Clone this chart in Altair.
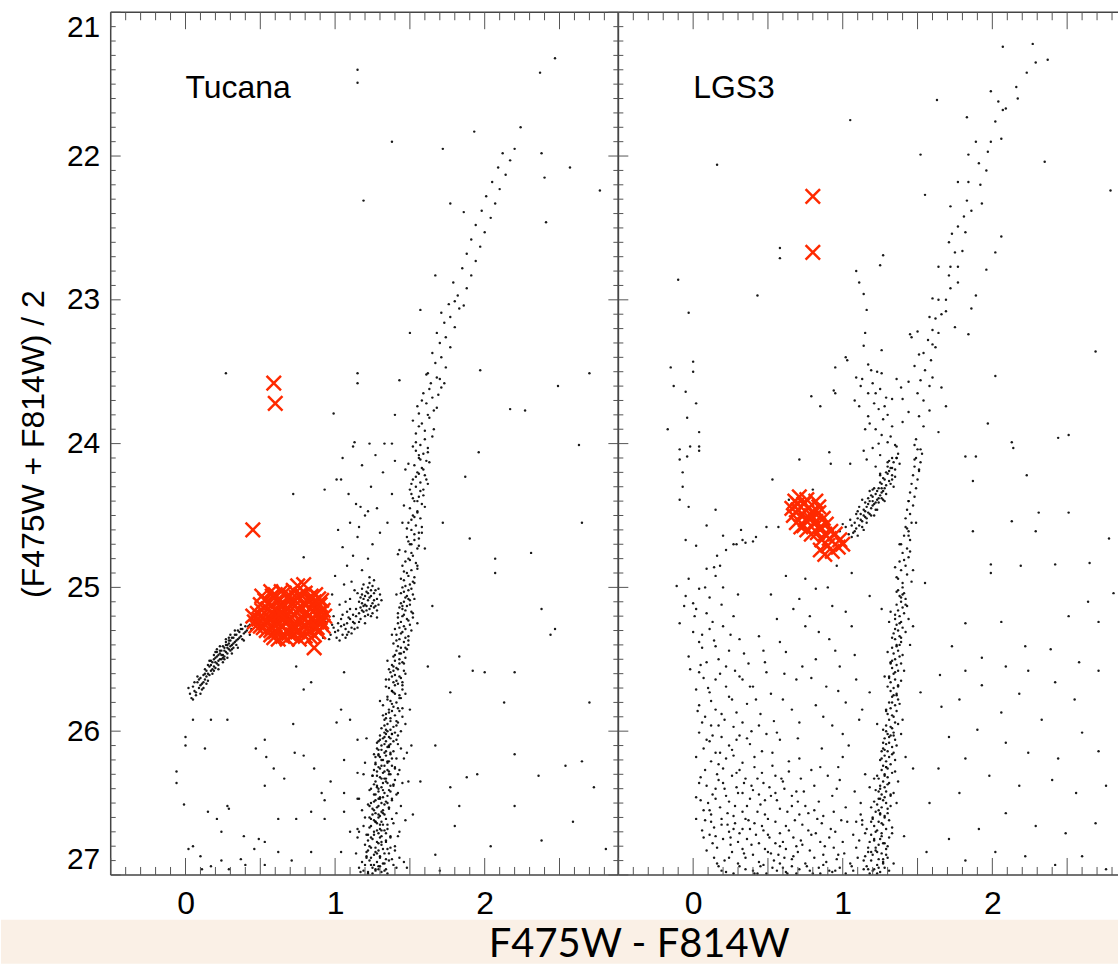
import altair as alt
import pandas as pd
import numpy as np

# ---------------- data: (F475W-F814W, (F475W+F814W)/2) ----------------
TUC_RGB = [
(1.22,26.99),(1.31,26.98),(1.27,26.97),(1.34,26.96),(1.25,26.95),(1.29,26.94),(1.20,26.93),(1.32,26.92),(1.28,26.91),(1.36,26.90),
(1.24,26.88),(1.30,26.87),(1.26,26.86),(1.33,26.85),(1.21,26.84),(1.29,26.83),(1.35,26.82),(1.27,26.81),(1.23,26.80),(1.31,26.79),
(1.28,26.77),(1.34,26.76),(1.25,26.75),(1.30,26.74),(1.37,26.73),(1.22,26.72),(1.29,26.71),(1.26,26.70),(1.33,26.69),(1.30,26.68),
(1.24,26.66),(1.35,26.65),(1.28,26.64),(1.31,26.63),(1.26,26.62),(1.38,26.61),(1.23,26.60),(1.30,26.59),(1.33,26.58),(1.27,26.57),
(1.32,26.55),(1.25,26.54),(1.36,26.53),(1.29,26.52),(1.22,26.51),(1.31,26.50),(1.34,26.49),(1.27,26.48),(1.38,26.47),(1.30,26.46),
(1.26,26.44),(1.33,26.43),(1.29,26.42),(1.36,26.41),(1.24,26.40),(1.31,26.39),(1.28,26.38),(1.39,26.37),(1.32,26.36),(1.27,26.35),
(1.34,26.33),(1.30,26.32),(1.25,26.31),(1.37,26.30),(1.32,26.29),(1.28,26.28),(1.35,26.27),(1.40,26.26),(1.29,26.25),(1.33,26.24),
(1.27,26.22),(1.36,26.21),(1.31,26.20),(1.38,26.19),(1.30,26.18),(1.34,26.17),(1.26,26.16),(1.33,26.15),(1.39,26.14),(1.29,26.13),
(1.35,26.11),(1.31,26.10),(1.37,26.09),(1.28,26.08),(1.34,26.07),(1.41,26.06),(1.32,26.05),(1.36,26.04),(1.30,26.03),(1.38,26.02),
(1.33,26.01),(1.35,26.00),
(1.19,26.97),(1.35,26.99),(1.29,26.96),(1.41,26.95),(1.26,26.93),(1.33,26.92),(1.23,26.90),(1.38,26.89),(1.30,26.88),(1.21,26.87),
(1.36,26.85),(1.27,26.84),(1.32,26.82),(1.24,26.81),(1.40,26.80),(1.29,26.78),(1.34,26.77),(1.22,26.76),(1.37,26.74),(1.31,26.73),
(1.26,26.72),(1.43,26.70),(1.28,26.69),(1.35,26.68),(1.23,26.67),(1.32,26.65),(1.39,26.64),(1.27,26.63),(1.34,26.61),(1.29,26.60),
(1.25,26.58),(1.41,26.57),(1.31,26.56),(1.36,26.54),(1.28,26.53),(1.33,26.51),(1.24,26.50),(1.38,26.48),(1.30,26.47),(1.35,26.45),
(1.27,26.44),(1.42,26.43),(1.32,26.41),(1.29,26.40),(1.37,26.38),(1.26,26.37),(1.34,26.35),(1.40,26.34),(1.31,26.33),(1.28,26.31),
(1.36,26.30),(1.33,26.28),(1.43,26.27),(1.30,26.26),(1.38,26.24),(1.27,26.23),(1.35,26.22),(1.32,26.20),(1.41,26.19),(1.29,26.17),
(1.37,26.16),(1.34,26.14),(1.31,26.13),(1.44,26.12),(1.36,26.10),(1.33,26.09),(1.39,26.07),(1.30,26.06),(1.37,26.05),(1.42,26.03),
(1.34,26.02),(1.40,26.01),
(1.16,26.95),(1.46,26.91),(1.15,26.74),(1.47,26.62),(1.18,26.55),(1.45,26.36),(1.20,26.22),(1.48,26.15),(1.21,26.05),(1.47,25.95),
(1.31,25.98),(1.39,25.97),(1.35,25.95),(1.42,25.94),(1.33,25.92),(1.37,25.91),(1.40,25.89),(1.34,25.88),(1.43,25.86),(1.36,25.85),
(1.39,25.83),(1.32,25.82),(1.41,25.80),(1.37,25.79),(1.44,25.77),(1.35,25.76),(1.40,25.74),(1.38,25.72),(1.45,25.71),(1.34,25.69),
(1.42,25.67),(1.39,25.66),(1.36,25.64),(1.44,25.63),(1.40,25.61),(1.37,25.59),(1.46,25.58),(1.41,25.56),(1.38,25.54),(1.43,25.53),
(1.40,25.51),(1.47,25.49),(1.39,25.48),(1.44,25.46),(1.41,25.44),(1.48,25.43),(1.42,25.41),(1.39,25.39),(1.46,25.38),(1.43,25.36),
(1.49,25.34),(1.41,25.33),(1.45,25.31),(1.47,25.29),(1.43,25.28),(1.50,25.26),(1.44,25.24),(1.48,25.22),(1.42,25.21),(1.46,25.19),
(1.51,25.17),(1.45,25.15),(1.48,25.13),(1.44,25.11),(1.50,25.09),(1.47,25.07),(1.52,25.05),(1.46,25.03),(1.49,25.02),(1.45,25.00),
(1.34,25.99),(1.41,25.96),(1.37,25.93),(1.45,25.90),(1.36,25.87),(1.42,25.84),(1.38,25.81),(1.35,25.78),(1.43,25.75),(1.39,25.73),
(1.36,25.70),(1.45,25.68),(1.41,25.65),(1.38,25.62),(1.47,25.60),(1.42,25.57),(1.39,25.55),(1.45,25.52),(1.43,25.50),(1.40,25.47),
(1.46,25.45),(1.44,25.42),(1.49,25.40),(1.41,25.37),(1.47,25.35),(1.44,25.32),(1.51,25.30),(1.46,25.27),(1.42,25.25),(1.49,25.23),
(1.45,25.20),(1.52,25.18),(1.47,25.16),(1.43,25.14),(1.50,25.12),(1.46,25.10),(1.53,25.08),(1.48,25.06),(1.44,25.04),(1.51,25.01),
(1.50,24.98),(1.46,24.95),(1.53,24.93),(1.48,24.90),(1.51,24.88),(1.45,24.85),(1.54,24.83),(1.49,24.80),(1.52,24.78),(1.47,24.75),
(1.55,24.73),(1.50,24.70),(1.53,24.67),(1.48,24.65),(1.56,24.62),(1.51,24.60),(1.54,24.57),(1.49,24.55),(1.57,24.52),(1.52,24.50),
(1.55,24.47),(1.50,24.45),(1.58,24.42),(1.53,24.40),(1.56,24.37),(1.51,24.35),(1.59,24.32),(1.54,24.30),(1.57,24.27),(1.52,24.25),
(1.60,24.22),(1.55,24.20),(1.58,24.17),(1.53,24.15),(1.61,24.12),(1.56,24.10),(1.59,24.07),(1.54,24.05),(1.62,24.03),(1.57,24.01),
(1.47,24.99),(1.52,24.96),(1.49,24.92),(1.55,24.87),(1.47,24.82),(1.51,24.76),(1.56,24.71),(1.49,24.68),(1.53,24.63),(1.58,24.58),
(1.51,24.53),(1.55,24.48),(1.60,24.44),(1.52,24.38),(1.57,24.33),(1.62,24.28),(1.54,24.23),(1.59,24.18),(1.63,24.13),(1.56,24.08),
(1.60,23.97),(1.54,23.93),(1.66,23.90),(1.58,23.86),(1.63,23.82),(1.56,23.79),(1.68,23.75),(1.61,23.72),(1.65,23.68),(1.59,23.65),
(1.71,23.61),(1.64,23.58),(1.68,23.54),(1.62,23.51),(1.74,23.47),(1.67,23.44),(1.71,23.40),(1.65,23.37),(1.77,23.33),(1.70,23.30),
(1.74,23.26),(1.68,23.23),(1.80,23.19),(1.73,23.16),(1.77,23.12),(1.71,23.09),(1.83,23.06),(1.76,23.03),(1.80,23.01),(1.86,23.04),
(1.82,22.97),(1.88,22.92),(1.79,22.88),(1.91,22.83),(1.85,22.78),(1.94,22.73),(1.88,22.68),(1.97,22.63),(1.91,22.58),(2.00,22.53),
(1.94,22.48),(2.04,22.43),(1.98,22.38),(2.07,22.33),(2.01,22.28),(2.10,22.23),(2.05,22.18),(2.14,22.13),(2.09,22.08),(2.17,22.03),
(2.12,21.98),(2.20,21.95),
]
TUC_RGB_SPREAD = [
(1.24,26.93),(1.37,26.81),(1.19,26.66),(1.33,26.97),(1.29,26.58),(1.42,26.73),(1.26,26.49),(1.35,26.36),(1.21,26.88),(1.31,26.24),
(1.44,26.52),(1.28,26.12),(1.38,26.02),(1.23,26.41),(1.34,25.91),(1.46,26.19),(1.30,25.79),(1.40,25.68),(1.27,26.63),(1.36,25.57),
(1.20,26.79),(1.32,26.46),(1.45,25.84),(1.25,26.31),(1.39,26.93),(1.29,26.07),(1.43,25.62),(1.34,26.71),(1.22,26.98),(1.37,26.15),
(1.28,26.85),(1.41,26.44),(1.33,25.96),(1.47,25.74),(1.26,26.55),(1.36,26.28),(1.18,26.91),(1.31,26.69),(1.42,26.09),(1.35,25.51),
(1.24,26.61),(1.39,26.38),(1.30,26.94),(1.44,26.00),(1.27,26.18),(1.38,25.86),(1.21,26.72),(1.33,26.33),(1.46,25.53),(1.29,26.47),
(1.40,26.83),(1.35,26.21),(1.25,26.99),(1.37,25.99),(1.32,26.57),(1.43,25.77),(1.23,26.52),(1.34,26.89),(1.28,26.39),(1.41,25.93),
(1.31,26.77),(1.36,26.11),(1.26,26.27),(1.45,25.66),(1.30,26.65),(1.39,25.58),(1.22,26.83),(1.33,26.04),(1.42,26.30),(1.27,26.96),
(1.35,26.50),(1.38,25.72),(1.24,26.74),(1.29,26.16),(1.43,26.88),(1.32,25.89),(1.20,26.60),(1.37,26.42),(1.34,25.64),(1.40,26.25),
(1.17,26.98),(1.49,26.35),(1.15,26.68),(1.50,25.85),(1.19,26.30),(1.48,26.95),(1.52,26.58),(1.16,26.47),(1.51,26.10),(1.14,26.85),
(1.43,25.46),(1.49,25.37),(1.40,25.29),(1.52,25.21),(1.45,25.13),(1.41,25.05),(1.53,24.97),(1.46,24.89),(1.50,24.81),(1.43,24.74),
(1.56,24.66),(1.48,24.59),(1.53,24.51),(1.46,24.43),(1.59,24.36),(1.51,24.28),(1.56,24.21),(1.49,24.14),(1.62,24.06),(1.54,23.99),
(1.60,23.91),(1.52,23.84),(1.66,23.77),(1.58,23.70),(1.63,23.62),(1.70,23.55),(1.61,23.52),(1.47,25.42),(1.38,25.33),(1.55,25.25),
(1.42,25.18),(1.49,25.08),(1.44,24.94),(1.55,24.85),(1.42,24.77),(1.51,24.70),(1.58,24.62),(1.45,24.55),(1.55,24.40),(1.50,24.32),
(1.61,24.25),(1.47,24.18),(1.57,24.11),(1.52,24.02),(1.65,23.95),(1.56,23.88),(1.62,23.80),(1.69,23.66),(1.55,23.74),(1.73,23.58),
]
TUC_HB = [
(0.03,25.74),(0.05,25.69),(0.06,25.72),(0.08,25.66),(0.09,25.70),(0.10,25.63),(0.11,25.67),(0.12,25.61),(0.13,25.64),(0.14,25.58),
(0.15,25.60),(0.16,25.55),(0.17,25.58),(0.18,25.52),(0.19,25.55),(0.20,25.49),(0.21,25.53),(0.22,25.47),(0.23,25.50),(0.24,25.44),
(0.25,25.47),(0.26,25.42),(0.27,25.45),(0.28,25.40),(0.29,25.43),(0.30,25.37),(0.31,25.40),(0.32,25.35),(0.33,25.38),(0.34,25.33),
(0.35,25.36),(0.36,25.31),(0.37,25.34),(0.38,25.29),(0.39,25.32),(0.40,25.27),(0.41,25.30),(0.43,25.26),(0.44,25.29),(0.46,25.25),
(0.21,25.48),(0.24,25.47),(0.26,25.44),(0.28,25.42),(0.30,25.41),(0.22,25.51),(0.19,25.50),(0.27,25.40),(0.32,25.39),(0.17,25.54),
(0.04,25.77),(0.07,25.73),(0.09,25.64),(0.11,25.71),(0.12,25.66),(0.14,25.62),(0.15,25.54),(0.16,25.61),(0.18,25.57),(0.19,25.47),
(0.20,25.56),(0.21,25.45),(0.22,25.54),(0.23,25.46),(0.24,25.50),(0.25,25.41),(0.26,25.48),(0.27,25.38),(0.28,25.46),(0.29,25.39),
(0.30,25.44),(0.31,25.35),(0.32,25.42),(0.33,25.33),(0.34,25.40),(0.36,25.35),(0.37,25.29),(0.38,25.36),(0.40,25.31),(0.42,25.27),
(0.13,25.60),(0.17,25.51),(0.20,25.52),(0.23,25.44),(0.25,25.49),(0.29,25.37),(0.31,25.43),(0.35,25.30),(0.10,25.68),(0.06,25.66),
(0.02,25.70),(0.05,25.78),(0.08,25.62),(0.10,25.74),(0.13,25.57),(0.14,25.67),(0.16,25.51),(0.18,25.60),(0.20,25.45),(0.22,25.57),
(0.23,25.41),(0.25,25.52),(0.27,25.36),(0.28,25.49),(0.30,25.33),(0.31,25.46),(0.33,25.30),(0.35,25.42),(0.37,25.26),(0.39,25.37),
(0.41,25.24),(0.43,25.33),(0.12,25.70),(0.19,25.58),(0.26,25.50),(0.21,25.43),(0.29,25.35),(0.34,25.37),(0.15,25.65),(0.07,25.75),
(0.95,25.30),(0.97,25.33),(0.99,25.28),(1.01,25.35),(1.02,25.30),(1.04,25.27),(1.05,25.33),(1.07,25.29),(1.08,25.25),(1.09,25.31),
(1.10,25.22),(1.11,25.28),(1.12,25.19),(1.13,25.25),(1.14,25.15),
(0.94,25.24),(0.96,25.36),(0.98,25.26),(1.00,25.31),(1.03,25.37),(1.04,25.22),(1.06,25.26),(1.07,25.35),(1.09,25.21),(1.11,25.32),
(1.12,25.24),(1.14,25.20),(1.15,25.28),(1.17,25.22),
(1.16,25.10),(1.18,25.05),(1.17,25.14),(1.19,25.08),(1.20,25.12),(1.21,25.03),(1.22,25.09),(1.23,25.15),(1.19,25.17),(1.24,25.06),
(1.25,25.11),(1.22,25.00),(1.26,25.04),(1.20,25.20),(1.27,25.13),(1.23,24.97),(1.18,25.11),(1.21,25.16),(1.25,25.18),(1.28,25.08),
(1.16,25.18),(1.24,25.02),(1.29,25.12),(1.26,24.95),
(1.18,25.01),(1.20,25.06),(1.21,25.13),(1.23,25.07),(1.24,25.13),(1.26,25.09),(1.27,25.02),(1.19,25.13),(1.22,25.19),(1.28,25.16),
(1.30,25.05),(1.17,25.07),(1.25,24.99),(1.29,25.01),
(1.02,25.25),(1.05,25.19),(1.08,25.33),(1.10,25.15),(1.13,25.29),(1.16,25.24),(1.18,25.16),(1.20,25.25),(1.22,25.04),(1.24,25.20),
(1.26,25.14),(1.15,25.04),(1.28,25.21),(1.31,25.09),(1.19,24.98),(1.23,24.93),(1.11,24.96),(1.07,25.10),(0.96,25.20),(0.92,25.35),
(0.98,25.05),(1.03,25.12),(1.06,24.98),(1.10,25.08),(0.99,25.20),(1.13,25.02),(1.08,25.17),
]
TUC_AGB = [
(1.00,24.92),(1.08,24.85),(1.12,24.78),(1.18,24.88),(1.05,24.72),(1.15,24.65),(1.22,24.80),(1.10,24.55),(1.25,24.70),(1.20,24.50),
(1.02,24.60),(1.30,24.62),(1.14,24.42),(1.28,24.45),(1.35,24.55),(1.09,24.35),(1.24,24.30),(1.32,24.20),(1.18,24.15),(1.38,24.35),
(1.04,24.25),(1.27,24.08),(1.40,24.12),(1.12,24.02),(1.33,24.00),
(0.72,24.35),(0.93,24.32),(1.01,24.25),(1.17,24.44),(1.22,24.47),(0.79,24.79),(1.16,24.58),
(2.38,21.98),(2.40,22.15),(2.24,21.80),(1.93,21.83),(1.72,21.95),(1.38,21.90),(1.15,21.40),(1.15,21.49),(2.47,21.32),(2.37,21.42),
(2.57,22.08),(2.77,22.24),(2.41,22.46),(1.19,22.31),(1.97,23.49),(2.17,23.76),(2.27,23.77),(2.49,23.60),(2.70,23.51),(2.63,24.01),
(1.96,24.06),(0.27,23.51),(1.15,23.51),(1.15,23.58),(0.99,23.79),(1.05,24.10),(1.23,24.00),(1.13,23.99),(1.43,23.56),(1.40,23.80),
(1.38,24.00),(1.50,23.23),(1.57,23.07),(1.67,22.83),(1.77,22.33),(1.86,22.39),
]
TUC_FAINT = [
(0.00,26.04),(0.00,26.10),(-0.06,26.28),(-0.06,26.36),(-0.01,26.51),(0.05,25.92),(0.05,26.80),(0.10,26.87),(0.13,26.12),(0.17,25.92),
(0.28,25.92),(0.15,26.56),(0.21,26.61),(0.28,26.52),(0.29,26.54),(0.24,26.70),(0.39,26.73),(0.46,26.82),(0.53,26.77),(0.49,26.75),
(0.37,26.89),(0.24,26.90),(0.53,26.06),(0.47,26.12),(0.54,26.18),(0.59,26.26),(0.73,26.15),(0.79,26.17),(0.72,25.95),(0.84,25.66),
(0.79,25.71),(0.74,25.55),(1.06,25.59),(1.04,25.85),(1.01,25.94),(0.93,26.48),(0.91,26.43),(0.66,26.33),(0.53,26.38),(0.62,26.61),
(0.74,26.61),(0.84,26.56),(0.93,26.61),(1.06,26.43),(1.06,26.56),(1.10,26.70),(1.04,26.84),(0.84,26.84),(0.71,26.90),(0.62,26.84),
(0.53,26.93),(0.40,26.93),(0.17,26.94),(0.11,26.96),(0.29,26.96),(0.02,26.82),(0.86,26.26),(0.97,26.35),(1.06,26.20),(1.10,25.92),
(1.15,26.06),(1.15,26.29),(1.15,26.47),(1.16,26.70),
]
TUC_FIELD = [
(2.65,24.55),(2.07,24.80),(2.07,24.90),(2.31,24.76),(2.38,25.15),(2.47,25.29),(2.44,25.33),(1.83,25.48),(2.00,25.59),(2.20,25.59),
(2.13,25.80),(2.70,25.80),(1.77,25.73),(1.92,25.58),(1.67,26.10),(2.20,26.16),(2.65,26.21),(2.54,26.24),(2.73,26.39),(2.36,26.31),
(1.95,26.30),(1.88,26.32),(1.77,26.39),(1.83,26.52),(2.20,26.52),(2.59,26.63),(1.80,26.66),(2.38,26.76),(2.04,26.80),(1.67,26.86),
(2.81,26.82),(1.70,26.97),(1.57,26.35),(1.62,25.55),(1.65,25.13),(1.72,24.55),(1.90,24.66),(1.87,24.23),(1.60,24.73),
]
TUC_CROSS = [
(0.64,25.03),(0.72,25.02),(0.80,25.04),(0.75,24.99),
(0.58,25.06),(0.68,25.07),(0.77,25.05),(0.84,25.06),(0.89,25.08),
(0.53,25.09),(0.62,25.10),(0.70,25.09),(0.79,25.11),(0.86,25.10),(0.91,25.09),
(0.50,25.12),(0.57,25.13),(0.66,25.12),(0.73,25.13),(0.81,25.12),(0.88,25.14),
(0.55,25.15),(0.61,25.16),(0.69,25.15),(0.76,25.16),(0.83,25.15),(0.92,25.16),
(0.48,25.18),(0.59,25.19),(0.65,25.18),(0.72,25.19),(0.80,25.18),(0.87,25.19),
(0.52,25.21),(0.57,25.22),(0.63,25.21),(0.70,25.22),(0.78,25.21),(0.85,25.22),(0.90,25.21),
(0.46,25.24),(0.55,25.25),(0.61,25.24),(0.67,25.25),(0.74,25.24),(0.82,25.25),(0.88,25.24),
(0.50,25.27),(0.58,25.28),(0.64,25.27),(0.71,25.28),(0.79,25.27),(0.86,25.28),(0.92,25.27),
(0.54,25.30),(0.60,25.31),(0.68,25.30),(0.75,25.31),(0.83,25.30),(0.89,25.31),
(0.57,25.33),(0.65,25.34),(0.72,25.33),(0.80,25.34),(0.86,25.33),
(0.62,25.36),(0.76,25.36),
(0.60,25.05),(0.66,25.04),(0.74,25.07),(0.82,25.08),(0.87,25.05),(0.56,25.11),(0.64,25.14),(0.71,25.11),(0.78,25.14),(0.85,25.13),
(0.90,25.12),(0.51,25.16),(0.58,25.17),(0.67,25.20),(0.74,25.17),(0.82,25.20),(0.89,25.18),(0.49,25.22),(0.54,25.23),(0.60,25.26),
(0.66,25.22),(0.72,25.26),(0.77,25.23),(0.84,25.26),(0.91,25.24),(0.52,25.28),(0.57,25.30),(0.62,25.29),(0.69,25.32),(0.73,25.29),
(0.81,25.29),(0.88,25.28),(0.59,25.35),(0.68,25.36),(0.78,25.32),(0.84,25.35),(0.70,25.06),(0.93,25.20),(0.47,25.27),(0.63,25.18),
(0.51,25.06),(0.57,25.03),(0.79,24.98),(0.45,25.20),
(0.86,25.42),(0.45,24.60),(0.59,23.58),(0.60,23.72),
]

LGS_RGB = [
(1.18,26.99),(1.25,26.98),(1.21,26.96),(1.28,26.95),(1.16,26.94),(1.23,26.93),(1.27,26.91),(1.19,26.90),(1.24,26.89),(1.30,26.88),
(1.20,26.86),(1.26,26.85),(1.22,26.83),(1.29,26.82),(1.17,26.81),(1.24,26.79),(1.27,26.78),(1.21,26.76),(1.25,26.75),(1.31,26.74),
(1.19,26.72),(1.26,26.71),(1.23,26.69),(1.29,26.68),(1.21,26.66),(1.27,26.65),(1.24,26.63),(1.31,26.62),(1.20,26.60),(1.28,26.59),
(1.25,26.57),(1.22,26.56),(1.30,26.54),(1.26,26.53),(1.23,26.51),(1.29,26.50),(1.27,26.48),(1.24,26.47),(1.32,26.45),(1.26,26.44),
(1.29,26.42),(1.22,26.41),(1.28,26.39),(1.25,26.38),(1.31,26.36),(1.27,26.35),(1.24,26.33),(1.30,26.32),(1.28,26.30),(1.33,26.29),
(1.26,26.27),(1.30,26.26),(1.27,26.24),(1.32,26.23),(1.29,26.21),(1.25,26.20),(1.31,26.18),(1.28,26.17),(1.34,26.15),(1.30,26.14),
(1.27,26.12),(1.33,26.11),(1.29,26.09),(1.31,26.08),(1.35,26.06),(1.28,26.05),(1.32,26.03),(1.30,26.02),(1.34,26.01),(1.29,26.00),
(1.20,26.97),(1.27,26.92),(1.15,26.87),(1.23,26.84),(1.30,26.80),(1.18,26.77),(1.26,26.73),(1.22,26.70),(1.33,26.67),(1.19,26.63),
(1.28,26.60),(1.24,26.55),(1.32,26.52),(1.21,26.49),(1.28,26.46),(1.34,26.43),(1.25,26.40),(1.30,26.37),(1.23,26.31),(1.35,26.28),
(1.29,26.25),(1.26,26.19),(1.33,26.16),(1.28,26.13),(1.36,26.10),(1.31,26.04),(1.27,25.99),(1.37,25.95),(1.33,25.89),(1.29,25.85),
(1.38,25.81),(1.34,25.75),(1.30,25.69),(1.39,25.65),(1.35,25.59),(1.32,25.53),(1.40,25.47),(1.36,25.41),(1.33,25.35),(1.42,25.31),
(1.38,25.25),(1.35,25.19),(1.43,25.13),(1.39,25.07),(1.36,25.03),
(1.33,25.98),(1.29,25.96),(1.35,25.94),(1.31,25.92),(1.34,25.90),(1.30,25.88),(1.36,25.86),(1.32,25.84),(1.35,25.82),(1.31,25.80),
(1.37,25.78),(1.33,25.76),(1.36,25.74),(1.32,25.72),(1.34,25.70),(1.37,25.68),(1.32,25.66),(1.35,25.64),(1.31,25.62),(1.34,25.60),
(1.37,25.58),(1.33,25.56),(1.36,25.54),(1.32,25.52),(1.35,25.50),(1.38,25.48),(1.34,25.46),(1.37,25.44),(1.33,25.42),(1.36,25.40),
(1.39,25.38),(1.35,25.36),(1.38,25.34),(1.34,25.32),(1.37,25.30),(1.40,25.28),(1.36,25.26),(1.39,25.24),(1.35,25.22),(1.38,25.20),
(1.41,25.18),(1.37,25.16),(1.40,25.14),(1.36,25.12),(1.39,25.10),(1.42,25.08),(1.38,25.06),(1.41,25.04),(1.37,25.02),(1.40,25.00),
(1.40,24.97),(1.37,24.94),(1.43,24.91),(1.39,24.88),(1.42,24.85),(1.38,24.82),(1.44,24.79),(1.40,24.76),(1.43,24.73),(1.39,24.70),
(1.45,24.67),(1.41,24.64),(1.44,24.61),(1.42,24.58),(1.46,24.55),(1.42,24.52),(1.45,24.49),(1.43,24.46),(1.47,24.43),(1.44,24.40),
(1.48,24.37),(1.45,24.34),(1.49,24.31),(1.46,24.28),(1.50,24.25),(1.47,24.22),(1.51,24.19),(1.48,24.16),(1.52,24.13),(1.49,24.10),
(1.53,24.07),(1.50,24.04),(1.48,24.01),
(2.07,21.24),(2.27,21.22),(2.37,21.33),(2.29,21.35),(2.23,21.42),(2.16,21.52),(2.17,21.60),(1.99,21.55),(2.04,21.62),(2.09,21.67),
(2.07,21.68),(2.02,21.76),(2.06,21.88),(1.99,21.90),(1.89,21.90),(1.84,21.99),(1.97,21.97),(1.91,22.05),(1.96,22.10),(1.77,22.18),
(1.84,22.18),(1.92,22.20),(1.83,22.31),(1.93,22.33),(1.86,22.38),(1.72,22.35),(1.81,22.42),(1.77,22.49),(1.82,22.53),(1.73,22.54),
(1.71,22.60),(1.75,22.67),(1.80,22.66),(1.72,22.77),(1.77,22.77),(1.64,22.77),(1.71,22.83),(1.77,22.88),(1.72,22.92),(1.60,22.99),
(1.64,23.00),(1.69,23.00),(1.66,23.10),(1.62,23.13),(1.69,23.08),(1.60,23.21),(1.64,23.23),(1.57,23.28),(1.62,23.33),(1.54,23.37),
(1.59,23.42),(1.55,23.49),(1.60,23.54),(1.52,23.56),(1.58,23.60),(1.50,23.65),(1.54,23.70),(1.58,23.77),(1.51,23.81),(1.54,23.88),
(1.49,23.97),(1.52,24.04),(1.48,24.11),(1.51,24.18),
]
LGS_RGB_SPREAD = [
(1.17,26.96),(1.29,26.86),(1.21,26.75),(1.14,26.90),(1.26,26.64),(1.31,26.97),(1.19,26.53),(1.33,26.71),(1.24,26.42),(1.28,26.31),
(1.22,26.81),(1.35,26.20),(1.27,26.08),(1.20,26.61),(1.32,25.97),(1.37,26.35),(1.29,25.86),(1.25,26.47),(1.36,25.75),(1.31,25.63),
(1.39,26.02),(1.33,25.51),(1.29,26.25),(1.38,25.40),(1.35,25.29),(1.41,25.58),(1.32,25.17),(1.40,25.05),(1.36,24.93),(1.44,25.22),
(1.41,24.81),(1.38,24.70),(1.46,24.96),(1.43,24.59),(1.39,25.35),(1.16,26.68),(1.34,26.92),(1.23,26.99),(1.30,26.57),(1.18,26.39),
(1.36,26.50),(1.26,26.14),(1.33,25.80),(1.24,26.95),(1.28,26.78),(1.40,25.92),(1.30,25.45),(1.42,25.12),(1.35,24.86),(1.45,24.75),
(1.21,26.33),(1.27,26.89),(1.34,26.03),(1.37,25.69),(1.31,25.24),(1.19,26.84),(1.25,26.58),(1.32,26.44),(1.39,25.53),(1.44,24.64),
(1.13,26.62),(1.41,26.73),(1.15,26.30),(1.42,26.18),(1.23,25.95),(1.45,25.40),(1.28,25.62),(1.47,24.88),(1.26,25.15),(1.49,24.55),
]
LGS_RC = [
(1.04,24.63),(1.06,24.57),(1.07,24.62),(1.08,24.55),(1.09,24.59),(1.10,24.52),(1.11,24.57),(1.12,24.49),(1.13,24.54),(1.14,24.46),
(1.15,24.51),(1.16,24.44),(1.17,24.48),(1.18,24.40),(1.19,24.45),(1.20,24.37),(1.21,24.42),(1.22,24.35),(1.23,24.39),(1.24,24.31),
(1.25,24.36),(1.26,24.28),(1.27,24.33),(1.28,24.25),(1.29,24.29),(1.30,24.21),(1.31,24.26),(1.32,24.17),(1.33,24.22),(1.34,24.13),
(1.35,24.18),(1.36,24.10),(1.20,24.43),(1.17,24.42),(1.24,24.38),(1.28,24.31),(1.14,24.50),(1.31,24.19),(1.22,24.41),(1.26,24.34),
(1.08,24.61),(1.10,24.47),(1.13,24.58),(1.15,24.41),(1.16,24.55),(1.19,24.36),(1.18,24.49),(1.21,24.31),(1.22,24.46),(1.25,24.27),
(1.24,24.41),(1.27,24.24),(1.29,24.35),(1.30,24.16),(1.32,24.28),(1.33,24.10),(1.23,24.33),(1.19,24.50),(1.12,24.53),(1.27,24.39),
(1.35,24.23),(1.37,24.07),(1.02,24.58),(1.06,24.65),(1.15,24.47),(1.20,24.40),(1.26,24.31),(1.17,24.38),(0.98,24.61),(1.00,24.56),
(1.11,24.44),(1.14,24.60),(1.18,24.33),(1.21,24.50),(1.25,24.22),(1.28,24.40),(1.31,24.12),(1.34,24.30),(1.16,24.52),(1.23,24.46),
(1.29,24.20),(1.09,24.49),(1.26,24.38),(1.33,24.25),(1.05,24.53),(1.38,24.14),(1.20,24.32),(1.13,24.39),(1.36,24.02),(1.10,24.64),
(0.49,24.58),(0.42,24.65),(0.33,24.67),(0.29,24.70),(0.22,24.74),(0.16,24.78),(0.35,24.69),(0.40,24.68),(0.27,24.70),(0.14,24.86),
(0.18,24.85),(0.09,24.87),(0.57,24.58),(0.32,24.60),(0.20,24.64),
(0.53,24.25),(0.71,24.11),(0.91,24.06),(0.64,24.39),(0.80,24.32),
]
LGS_BLUE = [
(-0.09,24.04),(-0.04,24.09),(0.04,24.02),(-0.07,24.30),(-0.03,24.44),(-0.09,24.39),(-0.05,24.67),(0.02,24.71),(0.15,24.46),(0.09,24.57),
(-0.11,24.99),(-0.05,25.06),(0.04,25.01),(-0.03,24.94),(0.15,24.92),(0.02,25.15),(0.09,25.18),(-0.09,25.25),(0.00,25.31),(0.11,25.29),
(0.20,25.27),(0.04,25.38),(0.15,25.41),(0.31,25.36),(-0.03,25.48),(0.09,25.52),(0.22,25.55),(0.04,25.59),(0.15,25.64),(0.31,25.62),
(0.02,25.71),(0.11,25.73),(0.24,25.76),(0.40,25.69),(0.04,25.82),(0.15,25.85),(0.29,25.87),(0.06,25.94),(0.17,25.96),(0.33,25.94),
(0.44,25.96),
(0.08,25.90),(0.19,25.88),(0.27,25.97),(0.12,25.79),(0.36,25.81),(0.22,25.69),(0.07,25.63),(0.28,25.58),(0.17,25.50),(0.34,25.46),
(0.06,25.42),(0.25,25.33),(0.13,25.24),(0.01,25.20),(0.19,25.12),(0.30,25.05),(0.08,25.00),(0.45,25.88),(0.52,25.74),(0.38,25.69),
(0.62,24.92),(0.71,25.08),(0.82,25.01),(0.93,25.13),(0.75,25.27),(0.56,25.22),(0.44,25.34),(0.91,25.36),(1.06,25.27),(0.62,25.45),
(0.82,25.50),(0.98,25.55),(0.49,25.59),(0.69,25.64),(0.89,25.69),(1.09,25.64),(0.60,25.78),(0.82,25.82),(1.02,25.80),(1.18,25.73),
(0.71,25.94),(0.93,25.96),(1.11,25.92),(0.56,26.01),(1.06,24.90),(1.18,25.06),(0.96,24.85),(0.75,24.94),
(0.52,25.05),(0.67,25.15),(0.84,25.31),(0.58,25.38),(0.73,25.55),(0.95,25.44),(0.66,25.85),(0.87,25.90),(1.00,26.02),(0.79,25.63),
(0.47,25.44),(0.61,25.60),(1.08,25.47),(1.13,25.85),(0.78,25.20),(0.90,25.00),(1.02,25.17),(0.54,25.93),(0.70,26.05),(0.97,25.72),
]
LGS_MS = [
(0.04,26.01),(0.19,26.04),(0.11,26.07),(0.31,26.03),(0.07,26.12),(0.24,26.10),(0.15,26.15),(0.38,26.09),(0.02,26.18),(0.27,26.17),
(0.46,26.14),(0.12,26.21),(0.33,26.22),(0.58,26.06),(0.20,26.26),(0.08,26.27),(0.41,26.25),(0.71,26.19),(0.29,26.29),(0.53,26.24),
(0.86,26.12),(0.16,26.30),(0.64,26.28),(0.97,26.25),(0.36,26.05),(0.22,26.19),(0.49,26.02),(0.79,26.27),(1.04,26.10),(0.13,26.03),
(0.05,26.32),(0.17,26.34),(0.26,26.31),(0.09,26.38),(0.34,26.36),(0.21,26.40),(0.43,26.33),(0.13,26.44),(0.30,26.43),(0.51,26.39),
(0.02,26.46),(0.38,26.47),(0.24,26.49),(0.60,26.35),(0.18,26.53),(0.45,26.51),(0.69,26.42),(0.07,26.55),(0.33,26.56),(0.56,26.48),
(0.81,26.38),(0.27,26.59),(0.48,26.58),(0.75,26.52),(0.93,26.45),(0.12,26.58),(0.40,26.41),(0.63,26.56),(1.02,26.53),(0.87,26.59),
(0.20,26.36),(0.55,26.31),(0.72,26.33),(0.36,26.52),(0.15,26.47),(0.66,26.45),(0.98,26.34),(0.29,26.39),(0.44,26.44),(0.84,26.49),
(1.08,26.42),(0.58,26.54),(0.10,26.50),(0.77,26.57),(0.52,26.45),(0.23,26.57),(0.94,26.56),(0.61,26.40),(0.35,26.33),(1.12,26.58),
(0.08,26.62),(0.19,26.61),(0.28,26.64),(0.14,26.67),(0.37,26.62),(0.24,26.70),(0.46,26.66),(0.33,26.68),(0.55,26.63),(0.11,26.72),
(0.42,26.72),(0.64,26.69),(0.20,26.75),(0.51,26.74),(0.73,26.65),(0.30,26.77),(0.60,26.77),(0.82,26.71),(0.39,26.79),(0.69,26.80),
(0.91,26.74),(0.16,26.81),(0.48,26.82),(0.78,26.83),(1.00,26.77),(0.26,26.84),(0.57,26.86),(0.87,26.86),(1.09,26.81),(0.35,26.88),
(0.66,26.89),(0.96,26.89),(0.21,26.90),(0.44,26.91),(0.75,26.92),(1.05,26.92),(0.31,26.94),(0.53,26.95),(0.84,26.95),(1.14,26.96),
(0.40,26.97),(0.62,26.98),(0.93,26.98),(0.27,26.99),(0.71,26.96),(1.02,26.99),(0.49,26.99),(0.80,26.99),(0.58,26.92),(0.17,26.94),
(0.12,26.63),(0.23,26.65),(0.41,26.64),(0.50,26.61),(0.68,26.62),(0.86,26.64),(0.99,26.62),(1.13,26.65),(0.06,26.69),(0.31,26.71),
(0.47,26.69),(0.58,26.71),(0.77,26.69),(0.95,26.70),(1.07,26.72),(0.25,26.74),(0.36,26.75),(0.55,26.78),(0.67,26.74),(0.85,26.77),
(1.11,26.76),(0.13,26.78),(0.44,26.78),(0.62,26.82),(0.73,26.79),(0.94,26.81),(1.17,26.84),(0.33,26.82),(0.52,26.85),(0.70,26.84),
(0.81,26.88),(1.01,26.85),(0.24,26.88),(0.40,26.86),(0.61,26.88),(0.89,26.91),(1.10,26.88),(0.47,26.93),(0.66,26.94),(0.78,26.97),
(0.98,26.95),(0.35,26.96),(0.56,26.97),(0.87,26.93),(1.07,26.97),(0.43,26.99),(0.69,26.99),(0.91,26.97),(0.19,26.97),(0.15,26.73),
(0.09,26.06),(0.26,26.13),(0.17,26.23),(0.04,26.36),(0.31,26.27),(0.22,26.45),(0.11,26.55),(0.39,26.38),(0.28,26.52),(0.46,26.29),
(0.19,26.65),(0.35,26.61),(0.55,26.43),(0.07,26.74),(0.43,26.56),(0.62,26.66),(0.25,26.79),(0.50,26.72),(0.71,26.58),(0.14,26.88),
(0.34,26.85),(0.58,26.80),(0.79,26.72),(0.22,26.98),(0.45,26.94),(0.67,26.87),(0.88,26.80),(0.30,26.92),(0.54,26.90),(0.76,26.94),
(0.97,26.86),(0.63,26.99),(0.85,26.99),(1.06,26.94),(0.38,26.68),(0.48,26.48),(0.66,26.52),(0.83,26.61),(0.92,26.68),(1.03,26.63),
(0.74,26.42),(0.59,26.33),(0.90,26.31),(1.15,26.71),(0.02,26.61),(0.15,26.40),(0.29,26.06),(0.41,26.18),(0.53,26.15),(0.12,25.96),
(0.21,25.92),(0.03,25.86),(0.26,25.78),(0.10,25.70),(0.33,25.64),(0.18,25.60),(0.05,25.54),(0.24,25.44),(0.14,25.37),(0.37,25.53),
(0.00,25.11),(0.11,25.07),(0.27,25.20),(0.06,25.33),(0.20,25.00),(-0.06,25.13),(-0.02,25.57),(0.42,25.78),(0.48,25.52),(0.39,26.00),
(0.16,26.92),(0.09,26.83),(0.41,26.99),(0.72,26.76),(0.95,26.97),(1.09,26.63),(0.81,26.55),(0.60,26.95),(0.50,26.84),(0.27,26.68),
(0.33,26.43),(0.47,26.36),(0.70,26.49),(0.96,26.40),(1.12,26.50),(0.05,26.48),(0.18,26.15),(0.64,26.21),(0.85,26.25),(1.00,26.18),
]
LGS_UPPER = [
(1.16,23.07),(1.11,22.88),(1.09,22.80),(1.14,22.96),(1.15,23.23),(1.14,23.32),(1.26,23.35),(1.19,23.49),(1.23,23.50),(1.13,23.55),
(1.09,23.54),(1.17,23.65),(1.22,23.65),(1.29,23.68),(1.33,23.69),(1.40,23.69),(1.44,23.78),(1.24,23.76),(1.17,23.81),(1.11,23.74),
(1.27,23.83),(1.33,23.88),(1.22,23.90),(1.15,23.90),(1.26,23.94),(1.30,23.99),(1.35,24.01),(1.20,24.03),(1.25,24.08),(1.30,24.13),
(1.16,24.11),(1.33,24.17),(1.02,23.40),(1.03,23.42),(0.95,23.47),(0.95,23.65),(1.26,23.51),(1.36,23.55),(1.39,23.61),(1.44,23.57),
(1.46,23.26),(1.50,23.22),(1.51,23.38),(1.48,23.46),(1.58,23.12),(1.60,23.31),(1.45,23.24),(1.66,23.61),(1.69,23.74),(1.82,24.09),
(1.75,23.19),(1.84,23.24),(1.86,23.06),(1.89,22.97),(1.96,22.79),(2.02,22.67),(2.06,22.56),(2.35,22.04),(2.79,22.24),(2.69,23.36),
(2.44,23.96),(2.51,23.94),(2.13,23.99),(1.97,23.86),(2.02,23.53),(1.27,22.69),(1.25,22.76),(1.52,21.99),(1.55,22.27),(1.63,21.61),
(1.83,21.73),(1.05,21.75),(0.16,22.06),(-0.10,22.86),(0.43,22.97),(-0.03,23.09),(0.58,22.64),(0.58,22.71),(0.79,23.67),(0.85,23.74),
(-0.15,23.47),(-0.13,23.60),(0.00,23.43),(0.00,23.50),(-0.05,23.64),(0.02,23.72),(-0.17,23.90),(0.04,23.92),(-0.04,23.82),(-0.09,24.11),
(-0.02,24.02),(0.04,24.05),(-0.07,24.20),(0.94,23.63),(0.92,24.14),(1.05,24.14),(1.25,24.21),(1.64,23.92),
(1.12,23.60),(1.20,23.58),(1.28,23.74),(1.18,23.86),(1.32,23.95),(1.24,24.00),(1.14,24.05),(1.36,24.10),(1.22,24.16),(1.30,23.80),
(1.08,23.70),(1.17,23.45),(1.25,23.62),(1.40,23.85),(1.21,23.72),
]
LGS_FIELD = [
(1.89,24.09),(2.14,24.03),(2.23,24.22),(1.87,24.26),(2.13,24.54),(2.29,24.61),(1.87,24.61),(1.99,24.84),(1.99,24.90),(2.19,24.85),
(2.42,24.84),(2.65,24.83),(2.64,25.10),(2.81,25.04),(2.71,25.24),(2.51,25.20),(2.39,25.43),(2.22,25.41),(2.06,25.24),(1.82,25.25),
(1.73,25.41),(1.93,25.49),(2.09,25.55),(2.24,25.58),(2.58,25.52),(2.71,25.58),(1.82,25.58),(1.65,25.61),(1.93,25.68),(2.18,25.74),
(2.42,25.66),(2.55,25.78),(1.78,25.78),(1.66,25.83),(2.06,25.87),(2.33,25.92),(2.60,26.01),(1.90,25.99),(1.71,26.04),(2.09,26.08),
(2.24,26.15),(2.44,26.19),(2.71,26.14),(1.82,26.19),(1.64,26.26),(1.98,26.31),(2.18,26.38),(2.40,26.34),(2.56,26.43),(2.76,26.38),
(1.78,26.43),(1.58,26.50),(2.09,26.57),(2.29,26.66),(2.49,26.71),(2.69,26.64),(1.91,26.68),(1.71,26.75),(2.02,26.84),(2.22,26.87),
(2.42,26.93),(2.60,26.87),(1.82,26.90),(1.56,26.84),(2.76,26.96),(1.47,26.26),(1.52,25.73),(1.47,25.27),(1.55,24.97),(1.44,24.40),
(2.31,24.48),(2.51,24.48),(2.78,24.66),
]
LGS_CROSS = [
(0.68,24.40),(0.71,24.37),(0.74,24.42),(0.70,24.46),(0.67,24.50),(0.73,24.49),(0.77,24.45),(0.82,24.40),(0.80,24.47),(0.75,24.53),
(0.69,24.55),(0.72,24.58),(0.78,24.52),(0.84,24.48),(0.87,24.52),(0.81,24.56),(0.76,24.60),(0.85,24.58),(0.89,24.56),(0.79,24.63),
(0.83,24.62),(0.88,24.63),(0.86,24.67),(0.91,24.66),(0.95,24.63),(0.98,24.67),(0.90,24.71),(0.85,24.74),(0.88,24.77),(0.93,24.75),
(0.97,24.72),(1.00,24.70),(0.92,24.61),(0.74,24.57),(0.70,24.42),(0.79,24.50),(0.82,24.54),(0.66,24.45),(0.76,24.39),(0.84,24.44),
(0.80,22.28),(0.80,22.67),
]

X_LABELS = [0, 1, 2]
Y_LABELS = [21, 22, 23, 24, 25, 26, 27]
X_MAJOR = [-0.5, 0.0, 0.5, 1.0, 1.5, 2.0, 2.5]
X_MINOR = [v for v in np.round(np.arange(-0.4, 2.95, 0.1), 1) if not np.isclose(v * 2, round(v * 2))]
Y_MINOR = [v for v in np.round(np.arange(21.1, 26.95, 0.1), 1) if not np.isclose(v, round(v))]

# ---------------- style ----------------
PX_PER_UNIT = 150
H = 865
W_LEFT = 509
W_RIGHT = 501
TICK_COLOR = "#555555"
FRAME_COLOR = "#444444"
RED = "#ff2a00"
SANS = "Liberation Sans"
DUMMY = pd.DataFrame({"a": [0]})
CROSS_PATH = "M-1,-1L1,1M-1,1L1,-1"


def to_df(*groups):
    rows = [p for g in groups for p in g]
    return pd.DataFrame(rows, columns=["x", "y"])


def panel(points, crosses, label, width, show_y, right_frame, extra=()):
    xmax = -0.5 + width / PX_PER_UNIT
    xs = alt.Scale(domain=[-0.5, xmax], nice=False, zero=False)
    ys = alt.Scale(domain=[21, 27], reverse=True, nice=False, zero=False)
    xaxis = alt.Axis(values=X_LABELS, format="d", ticks=False, domain=False, grid=False,
                     labelFont=SANS, labelFontSize=32, labelColor="black", labelPadding=14,
                     labelFlush=False, title=None)
    if show_y:
        yaxis = alt.Axis(values=Y_LABELS, format="d", ticks=False, domain=False, grid=False,
                         labelFont=SANS, labelFontSize=30, labelColor="black", labelPadding=11,
                         labelFlush=True, title="(F475W + F814W) / 2", titleFont=SANS,
                         titleFontSize=32, titleFontWeight="normal", titleColor="black",
                         titlePadding=16)
    else:
        yaxis = None

    def X(f):
        return alt.X(f, scale=xs, axis=xaxis)

    def Y(f):
        return alt.Y(f, scale=ys, axis=yaxis)

    pts = alt.Chart(points).mark_circle(size=6, color="black", opacity=0.9).encode(
        x=X("x:Q"), y=Y("y:Q"))
    crs = alt.Chart(crosses).mark_point(shape=CROSS_PATH, size=210, filled=False,
                                        strokeWidth=2.5, color=RED, opacity=1).encode(
        x=X("x:Q"), y=Y("y:Q"))

    layers = [pts, crs] + list(extra)
    frame = alt.Chart(DUMMY).mark_rule(color=FRAME_COLOR, strokeWidth=1.5)
    layers += [frame.encode(x=alt.value(0)), frame.encode(y=alt.value(0)),
               frame.encode(y=alt.value(H))]
    if right_frame:
        layers.append(frame.encode(x=alt.value(width)))

    for vals, L in ((X_MAJOR, 17), (X_MINOR, 8)):
        df = pd.DataFrame({"t": [v for v in vals if v <= xmax]})
        base = alt.Chart(df).mark_rule(color=TICK_COLOR, strokeWidth=1)
        layers.append(base.encode(x=X("t:Q"), y=alt.value(0), y2=alt.value(L)))
        layers.append(base.encode(x=X("t:Q"), y=alt.value(H), y2=alt.value(H - L)))
    for vals, L in ((Y_LABELS, 10), (Y_MINOR, 5)):
        df = pd.DataFrame({"t": vals})
        base = alt.Chart(df).mark_rule(color=TICK_COLOR, strokeWidth=1)
        layers.append(base.encode(y=Y("t:Q"), x=alt.value(0), x2=alt.value(L)))
        if right_frame:
            layers.append(base.encode(y=Y("t:Q"), x=alt.value(width), x2=alt.value(width - L)))

    layers.append(alt.Chart(DUMMY).mark_text(text=label, align="left", baseline="middle",
                                             font=SANS, fontSize=32, color="black").encode(
        x=alt.value(75), y=alt.value(76)))
    return alt.layer(*layers).properties(width=width, height=H)


band = alt.Chart(DUMMY).mark_rect(color="#faf0e6").encode(
    x=alt.value(-110), x2=alt.value(W_LEFT + W_RIGHT), y=alt.value(910), y2=alt.value(954))
xtitle = alt.Chart(DUMMY).mark_text(text="F475W - F814W", font="Lato", fontSize=40,
                                    align="center", baseline="middle", color="black").encode(
    x=alt.value(530), y=alt.value(935))

left = panel(to_df(TUC_RGB, TUC_RGB_SPREAD, TUC_HB, TUC_AGB, TUC_FAINT, TUC_FIELD),
             to_df(TUC_CROSS), "Tucana", W_LEFT, True, True, extra=(band, xtitle))
right = panel(to_df(LGS_RGB, LGS_RGB_SPREAD, LGS_RC, LGS_BLUE, LGS_MS, LGS_UPPER, LGS_FIELD),
              to_df(LGS_CROSS), "LGS3", W_RIGHT, False, False)

chart = alt.hconcat(left, right, spacing=0, bounds="flush").properties(
    padding={"left": 0, "top": 9, "right": 0, "bottom": 0},
    background="white",
).configure_view(stroke="transparent")

chart.save("out.html", embed_options={"renderer": "svg", "actions": False})
